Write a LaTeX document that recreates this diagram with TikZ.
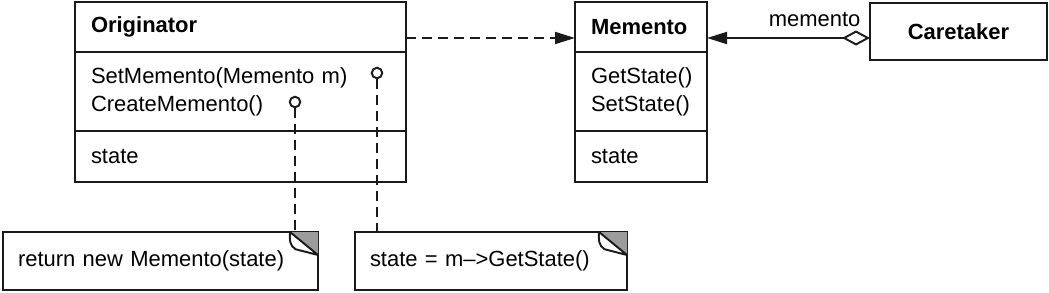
\documentclass[tikz,border=0pt]{standalone}
\usepackage{fontspec}
\setmainfont{Liberation Sans}
\usetikzlibrary{arrows.meta,positioning}
\definecolor{ink}{HTML}{1A1A1A}
\definecolor{foldgray}{HTML}{9C9C9C}
\newcommand{\umlfont}{\fontsize{12.5}{15.9}\selectfont}
\newlength{\foldw}\setlength{\foldw}{0.56cm}
\newlength{\foldh}\setlength{\foldh}{0.46cm}
\newcommand{\notefold}[1]{%
  \draw[notebox] (#1.south west) rectangle (#1.north east);
  \fill[foldgray] ([xshift=-\foldw]#1.north east) -- (#1.north east) -- ([yshift=-\foldh]#1.north east) -- cycle;
  \draw[notebox,fill=white,line join=round] ([xshift=-\foldw]#1.north east)
    to[out=-95,in=150] ([xshift=-0.8\foldw,yshift=-0.75\foldh]#1.north east)
    -- ([yshift=-\foldh]#1.north east) -- cycle;
}
\tikzset{
  part/.style={draw=ink,line width=1.1pt,inner xsep=0.32cm,inner ysep=0pt,outer sep=0pt,
    align=left,font=\umlfont},
  origpart/.style={part,text width=5.98cm},
  mempart/.style={part,text width=2.0cm},
  plainbox/.style={draw=ink,line width=1.1pt,font=\umlfont\bfseries,minimum width=3.54cm,
    minimum height=1.14cm,outer sep=0pt},
  note/.style={inner xsep=0.3cm,align=left,font=\umlfont,minimum height=1.16cm,outer sep=0pt},
  notebox/.style={draw=ink,line width=1.1pt},
  pin/.style={circle,draw=ink,line width=1.1pt,minimum size=0.21cm,inner sep=0pt},
  link/.style={draw=ink,line width=1.1pt,dash pattern=on 0.2cm off 0.12cm},
  dep/.style={link,-{Triangle[length=0.4cm,width=0.24cm]}},
  agg/.style={draw=ink,line width=1.1pt,{Diamond[open,length=0.56cm,width=0.3cm]}-{Triangle[length=0.4cm,width=0.24cm]}},
  rolelabel/.style={font=\umlfont,inner sep=2pt},
}
\begin{document}
\begin{tikzpicture}[x=1cm,y=1cm]
  \useasboundingbox (0,0) rectangle (20.98,-5.86);
  \node[origpart,minimum height=1.0cm,anchor=north] (origname) at (4.81,-0.04) {\textbf{Originator}};
  \node[origpart,minimum height=1.58cm,below=0pt of origname] (origops) {SetMemento(Memento m)\\CreateMemento()};
  \node[origpart,minimum height=1.02cm,below=0pt of origops] (origattr) {state};
  \node[mempart,minimum height=1.0cm,anchor=north] (memname) at (12.82,-0.04) {\textbf{Memento}};
  \node[mempart,minimum height=1.58cm,below=0pt of memname] (memops) {GetState()\\SetState()};
  \node[mempart,minimum height=1.02cm,below=0pt of memops] (memattr) {state};
  \node[plainbox] (care) at (19.17,-0.63) {Caretaker};
  \node[pin] (setpin) at (7.54,-1.46) {};
  \node[pin] (createpin) at (5.9,-2.04) {};
  \node[note,text width=5.7cm] (createnote) at (3.21,-5.22) {return new Memento(state)};
  \node[note,text width=4.84cm] (setnote) at (9.82,-5.22) {state = m-->GetState()};
  \notefold{createnote}
  \notefold{setnote}
  \draw[link] (createpin.south) -- (createpin.south |- createnote.north);
  \draw[link] (setpin.south) -- (setpin.south |- setnote.north);
  \draw[dep] ([yshift=-0.22cm]origname.east) -- ([yshift=-0.22cm]memname.west);
  \draw[agg] ([yshift=-0.13cm]care.west) -- node[rolelabel,above=4pt,pos=0.34]{memento} ([yshift=-0.22cm]memname.east);
\end{tikzpicture}
\end{document}
